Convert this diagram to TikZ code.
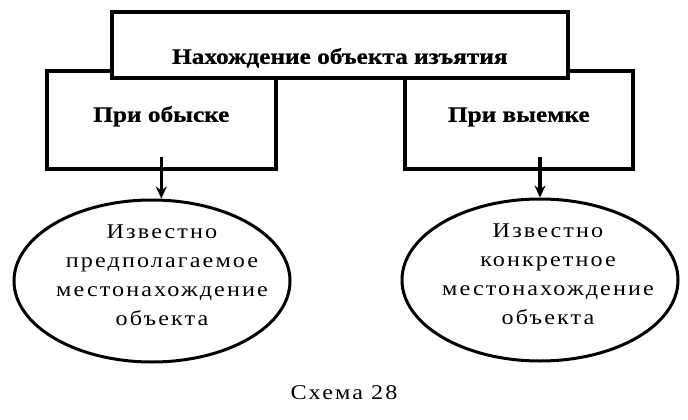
\documentclass[tikz,border=0pt]{standalone}
\usepackage{fontspec}
\setmainfont{Liberation Serif}
\newfontfamily\wideserif[FakeStretch=1.15, LetterSpace=10]{Liberation Serif}
\newfontfamily\widebold[FakeStretch=1.15, FakeBold=0.6]{Liberation Serif Bold}
\usetikzlibrary{positioning,shapes.geometric,arrows.meta}
\tikzset{every picture/.style={line width=0.8pt}}
% text that does not widen the ellipse
\newcommand{\ovaltext}[2]{\makebox[0pt]{\hspace{#1}\smash{\begin{tabular}{@{}c@{}}#2\end{tabular}}}}

\begin{document}
\begin{tikzpicture}[x=1pt, y=-1pt,
    box/.style={draw, rectangle, fill=white, line width=3.6pt, inner sep=0pt, anchor=north west,
        font=\widebold\fontsize{22}{26}\selectfont},
    oval/.style={draw, ellipse, line width=3pt, inner sep=0pt,
        minimum width=276pt, minimum height=162pt,
        font=\wideserif\fontsize{21}{29}\selectfont},
    arr/.style={-{Stealth[length=12pt, width=11pt]}, line width=3.2pt}]
    \useasboundingbox[fill=white] (0,0) rectangle (688,420);
    % Search and seizure boxes
    \node[box, minimum width=229pt, text height=51pt, text depth=47pt] (search) at (45,69) {При обыске};
    \node[box, minimum width=228pt, text height=51pt, text depth=47pt] (seizure) at (403,69) {При выемке};
    \node[box, minimum width=456pt, text height=52pt, text depth=14pt] (find) at (110,10) {Нахождение объекта изъятия};

    % Places
    \node[oval] (assumed) at (152,281) {\ovaltext{20pt}{Известно\\предполагаемое\\местонахождение\\объекта}};
    \node[oval] (known) at (540,280) {\ovaltext{16pt}{Известно\\конкретное\\местонахождение\\объекта}};

    % Connections
    \draw[arr] ([yshift=14pt]search.south) -- (search.south |- assumed.north);
    \draw[arr] ([yshift=14pt]seizure.south -| known.north) -- (known.north);

    % Caption
    \node[font=\wideserif\fontsize{21}{25}\selectfont] (caption) at (344,393) {Схема 28};
\end{tikzpicture}
\end{document}
